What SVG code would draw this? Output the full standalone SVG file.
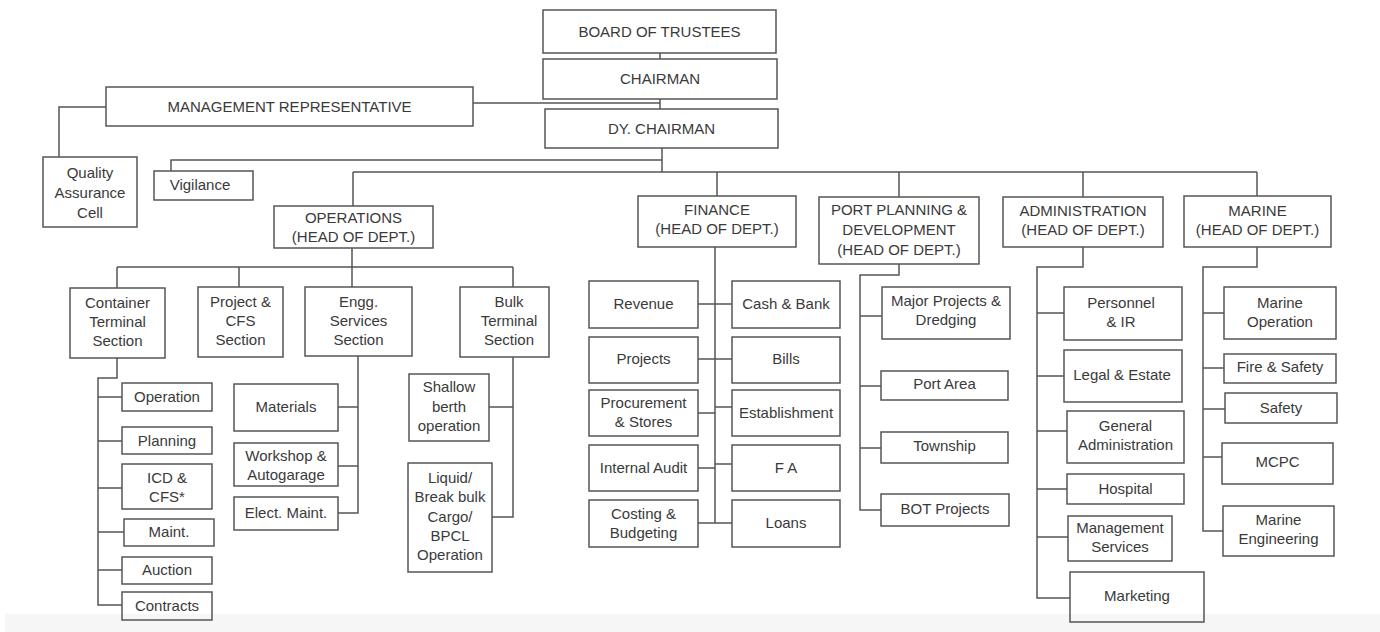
<svg xmlns="http://www.w3.org/2000/svg" width="1380" height="632" viewBox="0 0 1380 632">
<style>
.b{fill:none;stroke:#555;stroke-width:1.5}
.c{fill:none;stroke:#555;stroke-width:1.5}
text{font-family:"Liberation Sans",Arial,sans-serif;font-size:15px;fill:#3a3a3a;text-anchor:middle}
</style>
<rect x="0" y="0" width="1380" height="632" fill="#fff"/>
<rect x="5" y="614" width="1375" height="18" fill="#f6f6f6"/>
<g id="connectors">
<path class="c" d="M660,53V59M660,99V109M473,103H660M106,107H59V157M662,148V172M662,160H171V171M353,172H1257M353,172V206M717,172V196M899,172V197M1083,172V197M1257,172V196"/>
<path class="c" d="M352,248V267M117,267H513M117,267V288M239,267V287M352,267V287M513,267V287"/>
<path class="c" d="M117,358V378H98V605H122M98,397H122M98,441H122M98,488H122M98,532H124M98,570H122"/>
<path class="c" d="M358,356V513H338M358,407H338M358,466H338"/>
<path class="c" d="M513,357V517H492M513,407H489"/>
<path class="c" d="M715,247V523M698,304H732M698,359H732M698,413H715M715,407H732M698,468H715M715,464H732M698,523H732"/>
<path class="c" d="M899,264V275H860V510H881M860,316H882M860,386H881M860,448H881"/>
<path class="c" d="M1083,247V267H1037V598H1070M1037,313H1064M1037,376H1064M1037,431H1067M1037,489H1067M1037,537H1068"/>
<path class="c" d="M1257,247V267H1203V531H1223M1203,313H1224M1203,368H1224M1203,409H1225M1203,457H1222"/>
</g>
<g id="board"><rect class="b" x="543" y="10" width="233" height="43"/><text x="659.5" y="37">BOARD OF TRUSTEES</text></g>
<g id="chairman"><rect class="b" x="543" y="59" width="234" height="40"/><text x="660" y="84">CHAIRMAN</text></g>
<g id="mgmt-rep"><rect class="b" x="106" y="87" width="367" height="39"/><text x="289.5" y="112">MANAGEMENT REPRESENTATIVE</text></g>
<g id="dy-chairman"><rect class="b" x="545" y="109" width="233" height="39"/><text x="661.5" y="134">DY. CHAIRMAN</text></g>
<g id="qac"><rect class="b" x="43" y="157" width="94" height="70"/><text x="90" y="178">Quality</text><text x="90" y="198">Assurance</text><text x="90" y="218">Cell</text></g>
<g id="vigilance"><rect class="b" x="154" y="171" width="99" height="29"/><text x="200" y="190">Vigilance</text></g>
<g id="operations"><rect class="b" x="274" y="206" width="159" height="42"/><text x="353.5" y="223">OPERATIONS</text><text x="353.5" y="242">(HEAD OF DEPT.)</text></g>
<g id="finance"><rect class="b" x="638" y="196" width="158" height="51"/><text x="717" y="215">FINANCE</text><text x="717" y="234">(HEAD OF DEPT.)</text></g>
<g id="ppd"><rect class="b" x="819" y="197" width="160" height="67"/><text x="899" y="215">PORT PLANNING &amp;</text><text x="899" y="235">DEVELOPMENT</text><text x="899" y="255">(HEAD OF DEPT.)</text></g>
<g id="admin"><rect class="b" x="1003" y="197" width="160" height="50"/><text x="1083" y="216">ADMINISTRATION</text><text x="1083" y="235">(HEAD OF DEPT.)</text></g>
<g id="marine"><rect class="b" x="1184" y="196" width="147" height="51"/><text x="1257.5" y="216">MARINE</text><text x="1257.5" y="235">(HEAD OF DEPT.)</text></g>
<g id="container"><rect class="b" x="70" y="288" width="95" height="70"/><text x="117.5" y="308">Container</text><text x="117.5" y="327">Terminal</text><text x="117.5" y="346">Section</text></g>
<g id="project-cfs"><rect class="b" x="198" y="287" width="85" height="70"/><text x="240.5" y="307">Project &amp;</text><text x="240.5" y="326">CFS</text><text x="240.5" y="345">Section</text></g>
<g id="engg"><rect class="b" x="305" y="287" width="107" height="69"/><text x="358.5" y="307">Engg.</text><text x="358.5" y="326">Services</text><text x="358.5" y="345">Section</text></g>
<g id="bulk"><rect class="b" x="460" y="287" width="89" height="70"/><text x="509" y="307">Bulk</text><text x="509" y="326">Terminal</text><text x="509" y="345">Section</text></g>
<g id="c-operation"><rect class="b" x="122" y="383" width="90" height="28"/><text x="167" y="402">Operation</text></g>
<g id="c-planning"><rect class="b" x="122" y="427" width="90" height="27"/><text x="167" y="446">Planning</text></g>
<g id="c-icd"><rect class="b" x="122" y="464" width="90" height="45"/><text x="167" y="483">ICD &amp;</text><text x="167" y="502">CFS*</text></g>
<g id="c-maint"><rect class="b" x="124" y="519" width="90" height="27"/><text x="169" y="537">Maint.</text></g>
<g id="c-auction"><rect class="b" x="122" y="557" width="90" height="27"/><text x="167" y="575">Auction</text></g>
<g id="c-contracts"><rect class="b" x="122" y="592" width="90" height="28"/><text x="167" y="611">Contracts</text></g>
<g id="e-materials"><rect class="b" x="234" y="384" width="104" height="47"/><text x="286" y="412">Materials</text></g>
<g id="e-workshop"><rect class="b" x="234" y="443" width="104" height="43"/><text x="286" y="461">Workshop &amp;</text><text x="286" y="480">Autogarage</text></g>
<g id="e-elect"><rect class="b" x="234" y="497" width="104" height="33"/><text x="286" y="518">Elect. Maint.</text></g>
<g id="b-shallow"><rect class="b" x="409" y="374" width="80" height="67"/><text x="449" y="392">Shallow</text><text x="449" y="412">berth</text><text x="449" y="431">operation</text></g>
<g id="b-liquid"><rect class="b" x="408" y="463" width="84" height="109"/><text x="450" y="483">Liquid/</text><text x="450" y="502">Break bulk</text><text x="450" y="522">Cargo/</text><text x="450" y="541">BPCL</text><text x="450" y="560">Operation</text></g>
<g id="f-revenue"><rect class="b" x="589" y="281" width="109" height="47"/><text x="643.5" y="309">Revenue</text></g>
<g id="f-projects"><rect class="b" x="589" y="337" width="109" height="46"/><text x="643.5" y="364">Projects</text></g>
<g id="f-procurement"><rect class="b" x="589" y="390" width="109" height="46"/><text x="643.5" y="408">Procurement</text><text x="643.5" y="427">&amp; Stores</text></g>
<g id="f-audit"><rect class="b" x="589" y="445" width="109" height="46"/><text x="643.5" y="473">Internal Audit</text></g>
<g id="f-costing"><rect class="b" x="589" y="500" width="109" height="47"/><text x="643.5" y="519">Costing &amp;</text><text x="643.5" y="538">Budgeting</text></g>
<g id="f-cash"><rect class="b" x="732" y="281" width="108" height="47"/><text x="786" y="309">Cash &amp; Bank</text></g>
<g id="f-bills"><rect class="b" x="732" y="337" width="108" height="46"/><text x="786" y="364">Bills</text></g>
<g id="f-establishment"><rect class="b" x="732" y="390" width="108" height="46"/><text x="786" y="418">Establishment</text></g>
<g id="f-fa"><rect class="b" x="732" y="445" width="108" height="46"/><text x="786" y="473">F A</text></g>
<g id="f-loans"><rect class="b" x="732" y="500" width="108" height="47"/><text x="786" y="528">Loans</text></g>
<g id="p-major"><rect class="b" x="882" y="287" width="128" height="52"/><text x="946" y="306">Major Projects &amp;</text><text x="946" y="325">Dredging</text></g>
<g id="p-portarea"><rect class="b" x="881" y="371" width="127" height="29"/><text x="944.5" y="389">Port Area</text></g>
<g id="p-township"><rect class="b" x="881" y="432" width="127" height="31"/><text x="944.5" y="451">Township</text></g>
<g id="p-bot"><rect class="b" x="881" y="494" width="128" height="32"/><text x="945" y="514">BOT Projects</text></g>
<g id="a-personnel"><rect class="b" x="1064" y="287" width="118" height="53"/><text x="1121" y="308">Personnel</text><text x="1121" y="327">&amp; IR</text></g>
<g id="a-legal"><rect class="b" x="1064" y="350" width="118" height="52"/><text x="1122" y="380">Legal &amp; Estate</text></g>
<g id="a-general"><rect class="b" x="1067" y="411" width="117" height="52"/><text x="1125.5" y="431">General</text><text x="1125.5" y="450">Administration</text></g>
<g id="a-hospital"><rect class="b" x="1067" y="474" width="117" height="30"/><text x="1125.5" y="494">Hospital</text></g>
<g id="a-mgmt"><rect class="b" x="1068" y="516" width="104" height="45"/><text x="1120" y="533">Management</text><text x="1120" y="552">Services</text></g>
<g id="a-marketing"><rect class="b" x="1070" y="572" width="134" height="50"/><text x="1137" y="601">Marketing</text></g>
<g id="m-operation"><rect class="b" x="1224" y="287" width="112" height="52"/><text x="1280" y="308">Marine</text><text x="1280" y="327">Operation</text></g>
<g id="m-fire"><rect class="b" x="1224" y="354" width="112" height="29"/><text x="1280" y="372">Fire &amp; Safety</text></g>
<g id="m-safety"><rect class="b" x="1225" y="393" width="112" height="30"/><text x="1281" y="413">Safety</text></g>
<g id="m-mcpc"><rect class="b" x="1222" y="443" width="111" height="41"/><text x="1277.5" y="467">MCPC</text></g>
<g id="m-engineering"><rect class="b" x="1223" y="506" width="111" height="50"/><text x="1278.5" y="525">Marine</text><text x="1278.5" y="544">Engineering</text></g>
</svg>
